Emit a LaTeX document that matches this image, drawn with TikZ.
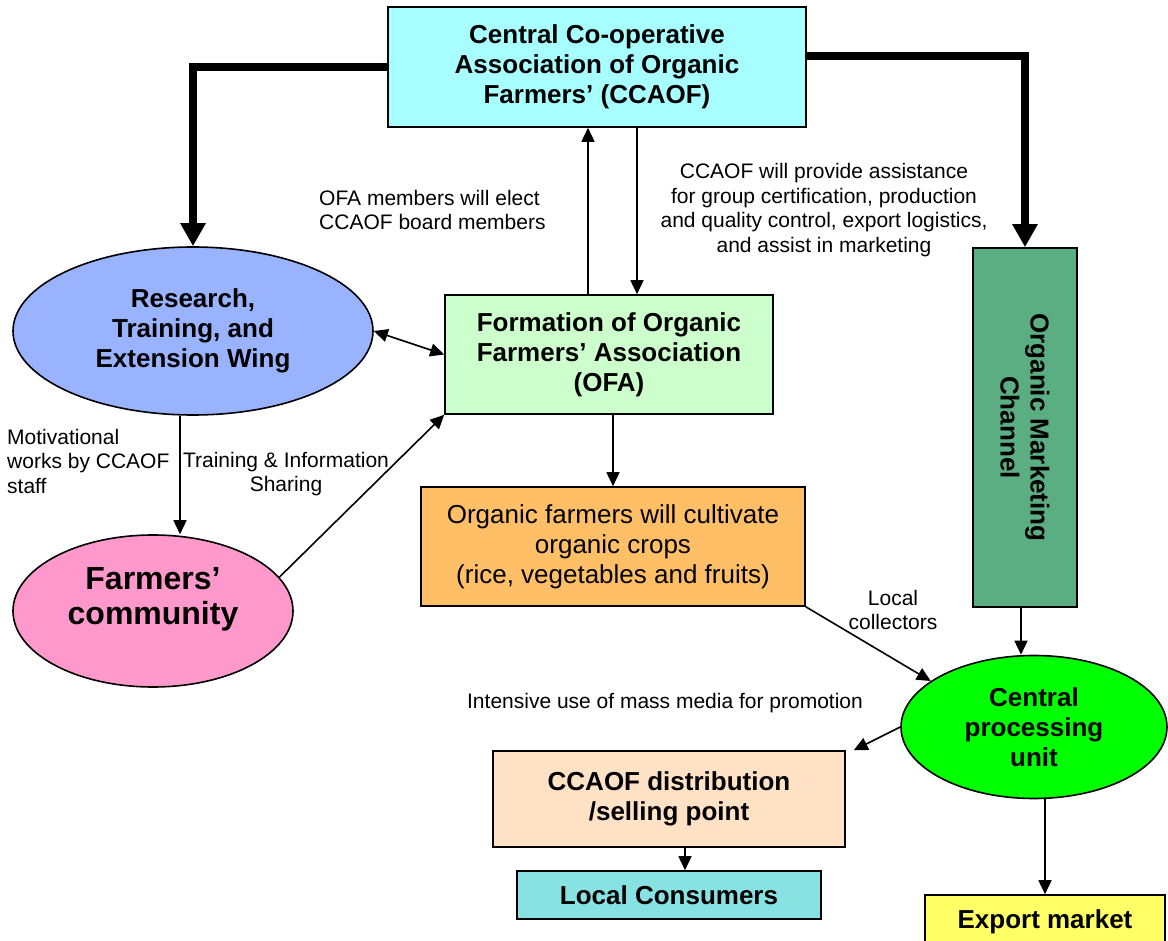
\documentclass[tikz,border=0pt]{standalone}
\usepackage{fontspec}
\setmainfont{Liberation Sans}
\usetikzlibrary{arrows.meta,calc,shapes.geometric}
\definecolor{cyanbox}{HTML}{A8FFFF}
\definecolor{bluewing}{HTML}{99B3FF}
\definecolor{ofagreen}{HTML}{CCFFCC}
\definecolor{mktgreen}{HTML}{5BAD82}
\definecolor{orangebox}{HTML}{FFBF66}
\definecolor{pinkell}{HTML}{FF99CC}
\definecolor{cpugreen}{HTML}{00FF00}
\definecolor{distbox}{HTML}{FFE2C6}
\definecolor{consumer}{HTML}{88E2E2}
\definecolor{exportbox}{HTML}{FFFF66}
\begin{document}
\begin{tikzpicture}[x=1pt,y=-1pt,
  box/.style={draw=black,line width=1.6pt,rectangle,inner sep=0pt,align=center},
  ell/.style={draw=black,line width=1.6pt,ellipse,inner sep=0pt,align=center},
  bt/.style={font=\fontsize{26}{30}\selectfont\bfseries},
  lbl/.style={font=\fontsize{21}{24.5}\selectfont,inner sep=0pt},
  arr/.style={line width=1.6pt,-{Triangle[length=14pt,width=13pt]}},
  darr/.style={line width=1.6pt,{Triangle[length=14pt,width=13pt]}-{Triangle[length=14pt,width=13pt]}},
  tarr/.style={line width=8pt,-{Triangle[length=23pt,width=24pt]}}
]
\useasboundingbox (0,0) rectangle (1168,941);
\fill[white] (0,0) rectangle (1168,941);

% nodes
\node[box,bt,fill=cyanbox,minimum width=418pt,minimum height=120pt] (ccaof) at (597,67)
  {Central Co-operative\\Association of Organic\\Farmers’ (CCAOF)};
\node[ell,bt,fill=bluewing,minimum width=360pt,minimum height=168pt] (research) at (193,331)
  {Research,\\Training, and\\Extension Wing};
\node[box,bt,fill=ofagreen,minimum width=328pt,minimum height=119pt] (ofa) at (609,354.5)
  {Formation of Organic\\Farmers’ Association\\(OFA)};
\node[box,fill=mktgreen,minimum width=104pt,minimum height=359pt] (mkt) at (1025,427.5) {};
\node[bt,rotate=-90,align=center] (mkttext) at (mkt.center) {Organic Marketing\\Channel};
\node[box,fill=orangebox,font=\fontsize{26}{30}\selectfont,minimum width=384pt,minimum height=119pt] (orange) at (613,546.5)
  {Organic farmers will cultivate\\organic crops\\(rice, vegetables and fruits)};
\node[ell,fill=pinkell,minimum width=280pt,minimum height=152pt] (farmers) at (153,611) {};
\node[font=\fontsize{32}{35}\selectfont\bfseries,align=center] (farmerstext) at (153,599) {Farmers’\\community};
\node[ell,bt,fill=cpugreen,minimum width=266pt,minimum height=143pt] (cpu) at (1034,727)
  {Central\\processing\\unit};
\node[box,bt,fill=distbox,minimum width=352pt,minimum height=96pt] (dist) at (669,799)
  {CCAOF distribution\\/selling point};
\node[box,bt,fill=consumer,minimum width=304pt,minimum height=48pt] (local) at (669,895)
  {Local Consumers};
\node[box,fill=exportbox,minimum width=240pt,minimum height=70pt] (export) at (1045,930) {};
\node[bt,anchor=center] (exporttext) at (1045,922) {Export market};

% labels
\node[lbl,anchor=west,align=left] (l1) at (319,210) {OFA members will elect\\CCAOF board members};
\node[lbl,align=center] (l2) at (824,210) {CCAOF will provide assistance\\for group certification, production\\and quality control, export logistics,\\and assist in marketing};
\node[lbl,anchor=west,align=left] (l3) at (7,461) {Motivational\\works by CCAOF\\staff};
\node[lbl,align=center] (l4) at (286,474) {Training \& Information\\Sharing};
\node[lbl,align=center] (l5) at (893,610) {Local\\collectors};
\node[lbl] (l6) at (665,703) {Intensive use of mass media for promotion};

% thick connectors
\draw[tarr] (ccaof.west) -| (research.north);
\draw[tarr] ([yshift=10.5pt]ccaof.east) -| (mkt.north);

% thin connectors
\draw[arr] ([xshift=-21pt]ofa.north) -- ([xshift=-21pt]ofa.north |- ccaof.south);
\draw[arr] ([xshift=28pt]ofa.north |- ccaof.south) -- ([xshift=28pt]ofa.north);
\draw[darr] (research.east) -- (ofa.west);
\draw[arr] (ofa.south -| orange.north) -- (orange.north);
\draw[arr] ([xshift=-13pt]research.south) -- ([xshift=-13pt]research.south |- farmers.north);
\draw[arr] (farmers.15) -- (ofa.south west);
\draw[arr] (orange.south east) -- (cpu.156);
\draw[arr] (mkt.south -| 1021,0) -- (cpu.north -| 1021,0);
\draw[arr] (cpu.west) -- ([xshift=8pt]dist.north east);
\draw[arr] ([xshift=16pt]dist.south) -- ([xshift=16pt]local.north);
\draw[arr] ([xshift=11pt]cpu.south) -- ([xshift=11pt]cpu.south |- export.north);
\end{tikzpicture}
\end{document}
